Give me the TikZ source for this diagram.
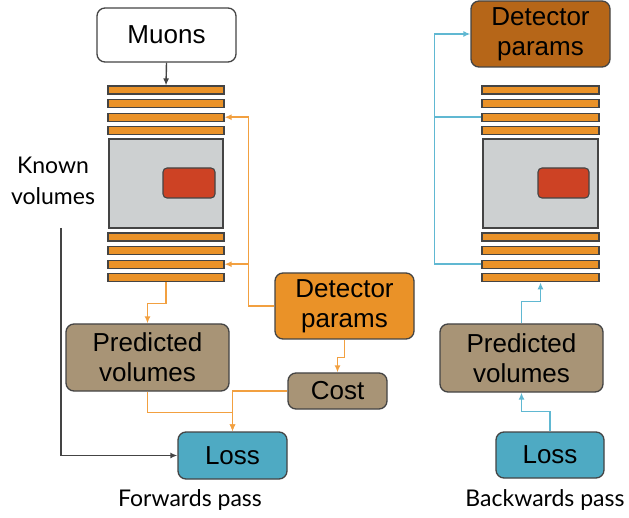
\documentclass[tikz,border=0pt]{standalone}
\usepackage{fontspec}
\setmainfont{Liberation Sans}
\newfontfamily\capfont{Lato}
\usetikzlibrary{arrows.meta}

\definecolor{layerorange}{RGB}{234,146,40}
\definecolor{darkorange}{RGB}{182,102,24}
\definecolor{predbrown}{RGB}{168,148,118}
\definecolor{lossblue}{RGB}{78,170,195}
\definecolor{volgray}{RGB}{205,208,209}
\definecolor{volred}{RGB}{205,66,36}
\definecolor{edgegray}{RGB}{68,68,68}
\definecolor{fwdline}{RGB}{242,160,64}
\definecolor{bwdline}{RGB}{96,184,210}

\tikzset{
  box/.style={draw=edgegray, line width=1.3pt, rounded corners=8pt, align=center, inner sep=0pt,
    font=\fontsize{26}{30}\selectfont},
  layer/.style={draw=edgegray, fill=layerorange, line width=1.1pt, inner sep=0pt,
    minimum width=116pt, minimum height=8pt},
  volume/.style={draw=edgegray, fill=volgray, line width=1.1pt, inner sep=0pt},
  target/.style={draw=edgegray, fill=volred, line width=1.1pt, rounded corners=4pt, inner sep=0pt,
    minimum width=52pt, minimum height=30pt},
  caption/.style={align=center, font=\capfont\fontsize{23}{31}\selectfont},
  tip/.style={-{Latex[length=7pt,width=6pt]}},
  fwd/.style={draw=fwdline, line width=1.6pt},
  bwd/.style={draw=bwdline, line width=1.6pt},
  known/.style={draw=edgegray, line width=1.4pt}
}

\begin{document}
\begin{tikzpicture}[x=1pt,y=-1pt]
\useasboundingbox (0,0) rectangle (629,518);

% forwards pass
\node[box, fill=white, minimum width=139pt, minimum height=54pt] (muons) at (166.5,35) {Muons};
\foreach \i in {1,...,4} {
  \node[layer] (fup\i) at (166,{90+13.6*(\i-1)}) {};
  \node[layer] (flo\i) at (166,{237+13.6*(\i-1)}) {};
}
\node[volume, minimum width=114pt, minimum height=89pt] (fvol) at (166,183.5) {};
\node[target] (fred) at (189,183) {};
\node[box, fill=layerorange, minimum width=139pt, minimum height=66pt] (fparams) at (344.5,306) {Detector\\params};
\node[box, fill=predbrown, minimum width=163pt, minimum height=67pt] (fpred) at (147.5,357.5) {Predicted\\volumes};
\node[box, fill=predbrown, minimum width=99pt, minimum height=36pt] (fcost) at (337.5,391) {Cost};
\node[box, fill=lossblue, minimum width=109pt, minimum height=47pt] (floss) at (232.5,455.5) {Loss};
\node[caption] (known) at (53,181) {Known\\volumes};
\node[caption] (fcap) at (190,500) {Forwards pass};
\coordinate (kstart) at (61,228);

\draw[known, tip] (muons.south) -- (fup1.north);
\draw[fwd, tip] (fparams.west) -- ++(-26,0) |- (fup3.east);
\draw[fwd, tip] (fparams.west) -- ++(-26,0) |- (flo3.east);
\draw[fwd, tip] (flo4.south) -- ++(0,21) -| (fpred.north);
\draw[fwd, tip] (fparams.south) -- ++(0,18) -| (fcost.north);
\draw[fwd, tip] (fpred.south) -- ++(0,21) -| (floss.north);
\draw[fwd, tip] (fcost.west) -| (floss.north);
\draw[known, tip] (kstart) |- (floss.west);

% backwards pass
\node[box, fill=darkorange, minimum width=139pt, minimum height=66pt] (bparams) at (540.5,34) {Detector\\params};
\foreach \i in {1,...,4} {
  \node[layer, minimum width=117pt] (bup\i) at (540.5,{90+13.6*(\i-1)}) {};
  \node[layer, minimum width=117pt] (blo\i) at (540.5,{237+13.6*(\i-1)}) {};
}
\node[volume, minimum width=115pt, minimum height=89pt] (bvol) at (540.5,183.5) {};
\node[target, minimum width=51pt] (bred) at (563.5,183) {};
\node[box, fill=predbrown, minimum width=163pt, minimum height=68pt] (bpred) at (521.5,358) {Predicted\\volumes};
\node[box, fill=lossblue, minimum width=108pt, minimum height=46pt] (bloss) at (550,455) {Loss};
\node[caption] (bcap) at (545,500) {Backwards pass};

\draw[bwd, tip] (bloss.north) -- ++(0,-20) -| (bpred.south);
\draw[bwd, tip] (bpred.north) -- ++(0,-22) -| (blo4.south);
\draw[bwd] (bup3.west) -- ++(-47,0);
\draw[bwd, tip] (blo3.west) -- ++(-47,0) |- (bparams.west);
\end{tikzpicture}
\end{document}
